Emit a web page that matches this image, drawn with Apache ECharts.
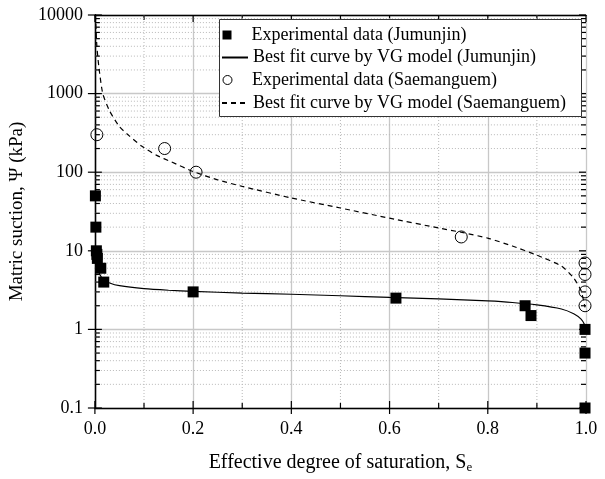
<!DOCTYPE html>
<html><head><meta charset="utf-8">
<script src="https://cdn.jsdelivr.net/npm/echarts@6/dist/echarts.min.js"></script>
<style>html,body{margin:0;padding:0;background:#fff}#c{width:605px;height:479px}</style>
</head><body><div id="c"></div>
<script>
// ---- data ----
const xMajorTicks = [0, 0.2, 0.4, 0.6, 0.8, 1.0];
const xTickLabels = ['0.0', '0.2', '0.4', '0.6', '0.8', '1.0'];
const xMinorTicks = [0.1, 0.3, 0.5, 0.7, 0.9];
const yMajorTicks = [0.1, 1, 10, 100, 1000, 10000];
const yTickLabels = ['0.1', '1', '10', '100', '1000', '10000'];
const yMinorTicks = [0.2, 0.3, 0.4, 0.5, 0.6, 0.7, 0.8, 0.9,
  2, 3, 4, 5, 6, 7, 8, 9,
  20, 30, 40, 50, 60, 70, 80, 90,
  200, 300, 400, 500, 600, 700, 800, 900,
  2000, 3000, 4000, 5000, 6000, 7000, 8000, 9000];

const jumunjinSe  = [0.001, 0.002, 0.003, 0.004, 0.005, 0.012, 0.018, 0.2, 0.613, 0.876, 0.888, 0.998, 0.998, 0.998];
const jumunjinPsi = [50, 20, 10, 9, 8, 6, 4, 3, 2.5, 2, 1.5, 1, 0.5, 0.1];

const saemSe  = [0.004, 0.142, 0.206, 0.746, 0.998, 0.998, 0.998, 0.998];
const saemPsi = [300, 200, 100, 15, 7, 5, 3, 2];

const jFitSe  = [0.002, 0.005, 0.01, 0.018, 0.03, 0.05, 0.1, 0.15, 0.2, 0.3, 0.4, 0.5, 0.6, 0.7, 0.8, 0.85, 0.9, 0.95, 0.975, 0.99, 0.997, 1.0];
const jFitPsi = [9, 6.5, 5, 4.3, 3.9, 3.6, 3.3, 3.15, 3.05, 2.9, 2.8, 2.68, 2.56, 2.45, 2.3, 2.2, 2.05, 1.82, 1.58, 1.35, 1.15, 1.0];

const sFitSe  = [0.001, 0.004, 0.008, 0.016, 0.03, 0.05, 0.07, 0.095, 0.125, 0.156, 0.2, 0.25, 0.3, 0.4, 0.5, 0.6, 0.7, 0.75, 0.8, 0.85, 0.9, 0.95, 0.975, 0.99, 0.998];
const sFitPsi = [10000, 4000, 2200, 1000, 600, 380, 290, 215, 165, 135, 102, 80, 66, 47, 35, 26, 19.5, 17, 14.5, 11.5, 8.8, 6.4, 4.5, 3.1, 1.9];

const legendNames = [
  'Experimental data (Jumunjin)',
  'Best fit curve by VG model (Jumunjin)',
  'Experimental data (Saemanguem)',
  'Best fit curve by VG model (Saemanguem)'
];

// ---- build ----
const FONT = 'Liberation Serif';
const zip = (a, b) => a.map((v, i) => [v, b[i]]);

const tickData = [];
xMajorTicks.forEach(v => tickData.push([v, 1, 0]));
xMinorTicks.forEach(v => tickData.push([v, 1, 1]));
yMajorTicks.forEach(v => tickData.push([0.5, v, 2]));
yMinorTicks.forEach(v => tickData.push([0.5, v, 3]));

function renderTicks(params, api) {
  const cs = params.coordSys;
  const left = cs.x, right = cs.x + cs.width, top = cs.y, bottom = cs.y + cs.height;
  const kind = api.value(2);
  const children = [];
  const tick = { stroke: '#000', lineWidth: 1.2 };
  const dot = { stroke: '#b8b8b8', lineWidth: 1, lineDash: [1, 2] };
  const L = (x1, y1, x2, y2, style) => children.push({ type: 'line', shape: { x1, y1, x2, y2 }, style });
  if (kind === 0 || kind === 1) {
    const x = api.coord([api.value(0), api.value(1)])[0];
    if (kind === 0) {
      L(x, bottom - 7, x, bottom + 6, tick);
      L(x, top, x, top + 7, tick);
    } else {
      L(x, top, x, bottom, dot);
      L(x, bottom - 5, x, bottom, tick);
      L(x, top, x, top + 5, tick);
    }
  } else {
    const y = api.coord([api.value(0), api.value(1)])[1];
    if (kind === 2) {
      L(left - 7, y, left + 7, y, tick);
      L(right - 7, y, right, y, tick);
    } else {
      L(left, y, right, y, dot);
      L(left, y, left + 5, y, tick);
      L(right - 5, y, right, y, tick);
    }
  }
  return { type: 'group', children };
}

const labelOf = (ticks, labels) => v => {
  const lv = Math.log10(v);
  let best = 0;
  ticks.forEach((t, i) => { if (Math.abs(Math.log10(t) - lv) < Math.abs(Math.log10(ticks[best]) - lv)) best = i; });
  return labels[best];
};

const axisLineStyle = { lineStyle: { color: '#000', width: 1.3 } };
const majorSplit = { show: true, lineStyle: { color: '#c8c8c8', width: 1.3 } };

const legendBase = (name, top, left, itemWidth, textPad, extra) => ({
  data: [Object.assign({ name }, extra || {})],
  top, left, padding: 0, itemWidth, itemHeight: 9, z: 10,
  textStyle: { fontFamily: FONT, fontSize: 18, color: '#000', lineHeight: 18, padding: [0, 0, 0, textPad] },
  selectedMode: false
});

const option = {
  animation: false,
  backgroundColor: '#fff',
  grid: { left: 93, right: 19, top: 15, bottom: 68.5, containLabel: false },
  xAxis: [
    {
      type: 'value', min: 0, max: 1, interval: 0.2, position: 'bottom',
      axisLine: axisLineStyle, axisTick: { show: false },
      axisLabel: { fontFamily: FONT, fontSize: 18, color: '#000', margin: 12,
        formatter: v => xTickLabels[Math.round(v / 0.2)] },
      splitLine: majorSplit,
      name: '{a|Effective degree of saturation, S}{b|e}', nameLocation: 'middle', nameGap: 44,
      nameTextStyle: { fontFamily: FONT, fontSize: 20, color: '#000',
        rich: { a: { fontFamily: FONT, fontSize: 20, color: '#000' },
                b: { fontFamily: FONT, fontSize: 13, color: '#000', verticalAlign: 'bottom', padding: [9, 0, 0, 0] } } }
    },
    {
      type: 'value', min: 0, max: 1, interval: 0.2, position: 'top',
      axisLine: axisLineStyle, axisTick: { show: false }, axisLabel: { show: false }, splitLine: { show: false }
    }
  ],
  yAxis: [
    {
      type: 'log', logBase: 10, min: 0.1, max: 10000, splitNumber: 5, position: 'left',
      axisLine: axisLineStyle, axisTick: { show: false },
      axisLabel: { fontFamily: FONT, fontSize: 18, color: '#000', margin: 12,
        formatter: labelOf(yMajorTicks, yTickLabels) },
      splitLine: majorSplit, minorTick: { show: false }, minorSplitLine: { show: false },
      name: 'Matric suction, Ψ (kPa)', nameLocation: 'middle', nameGap: 61,
      nameTextStyle: { fontFamily: FONT, fontSize: 19, color: '#000' }
    },
    {
      type: 'log', logBase: 10, min: 0.1, max: 10000, splitNumber: 5, position: 'right',
      axisLine: axisLineStyle, axisTick: { show: false }, axisLabel: { show: false }, splitLine: { show: false }
    }
  ],
  graphic: [{
    type: 'rect', left: 219, top: 19, z: 5,
    shape: { width: 362, height: 97 },
    style: { fill: '#fff', stroke: '#333', lineWidth: 1 }
  }],
  legend: [
    legendBase(legendNames[0], 26, 222.5, 9, 15, { icon: 'rect', itemStyle: { color: '#000', opacity: 1 } }),
    legendBase(legendNames[1], 48.5, 221, 26, 0, { itemStyle: { opacity: 0 } }),
    legendBase(legendNames[2], 71, 222.5, 9, 15, { icon: 'circle', itemStyle: { color: '#fff', borderColor: '#000', borderWidth: 1, opacity: 1 } }),
    legendBase(legendNames[3], 94, 221, 26, 0, { itemStyle: { opacity: 0 } })
  ],
  series: [
    {
      type: 'custom', name: 'ticks', xAxisIndex: 0, yAxisIndex: 0, z: 1, clip: false, silent: true,
      renderItem: renderTicks, data: tickData
    },
    {
      type: 'line', name: legendNames[1], data: zip(jFitSe, jFitPsi), showSymbol: false, symbol: 'none',
      smooth: 0.2, z: 3, lineStyle: { color: '#000', width: 1.2 }, itemStyle: { color: '#000' }
    },
    {
      type: 'line', name: legendNames[3], data: zip(sFitSe, sFitPsi), showSymbol: false, symbol: 'none',
      smooth: 0.2, z: 3, lineStyle: { color: '#000', width: 1.2, type: [5, 4] }, itemStyle: { color: '#000' }
    },
    {
      type: 'scatter', name: legendNames[0], data: zip(jumunjinSe, jumunjinPsi), symbol: 'rect', symbolSize: 11,
      z: 4, itemStyle: { color: '#000', opacity: 1 }
    },
    {
      type: 'scatter', name: legendNames[2], data: zip(saemSe, saemPsi), symbol: 'circle', symbolSize: 12,
      z: 4, itemStyle: { color: 'rgba(255,255,255,0)', borderColor: '#000', borderWidth: 1, opacity: 1 }
    }
  ]
};

const chart = echarts.init(document.getElementById('c'), null, { renderer: 'canvas' });
chart.setOption(option);
</script>
</body></html>
